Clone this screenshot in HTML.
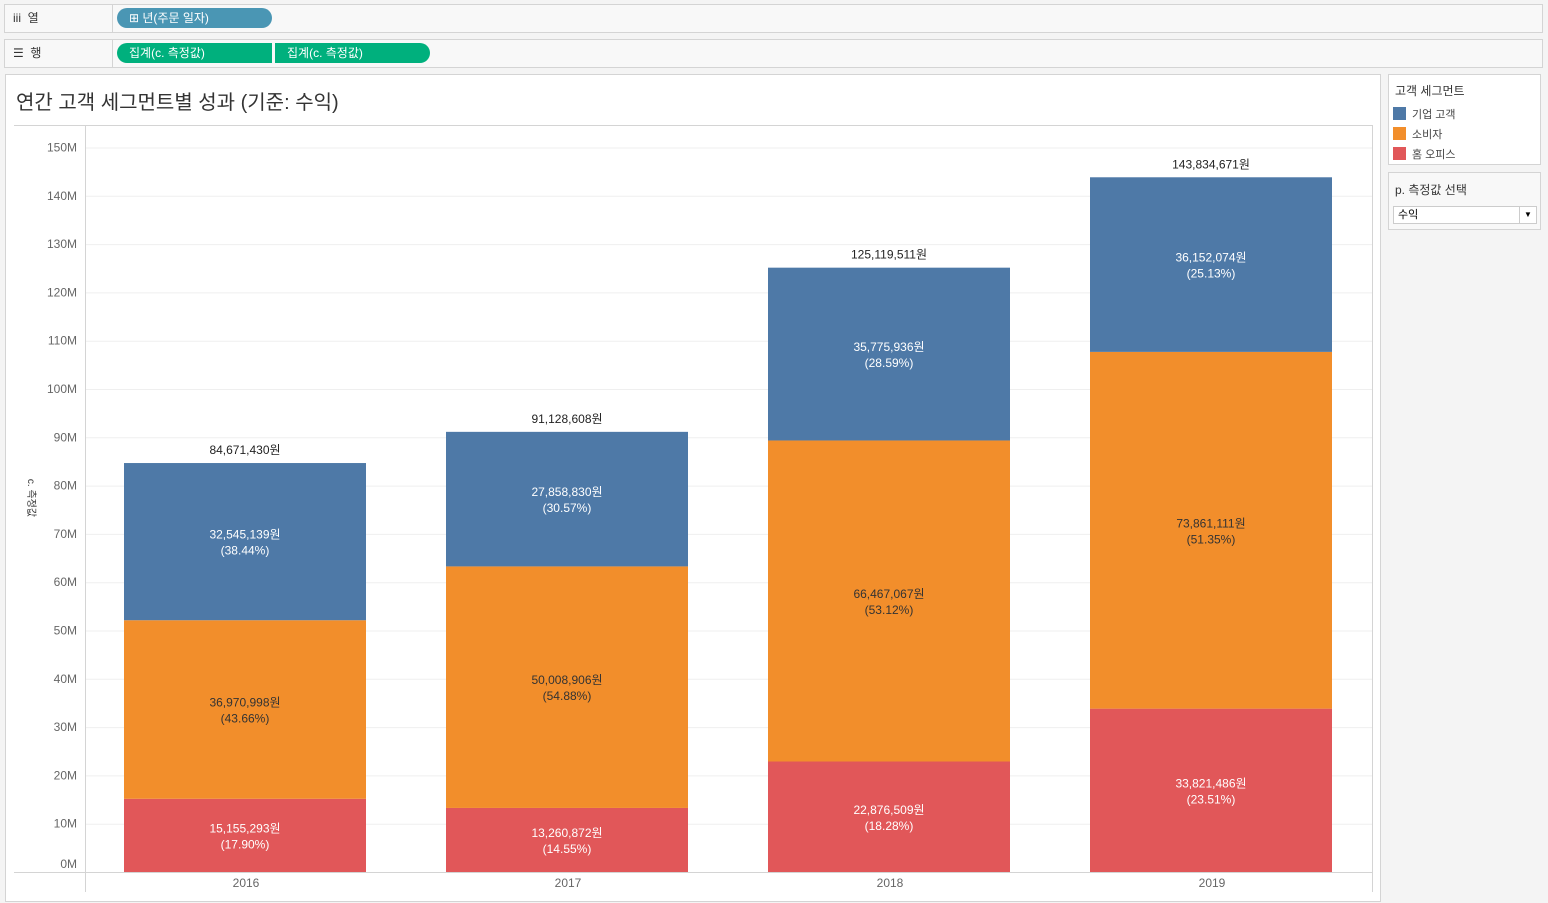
<!DOCTYPE html>
<html><head><meta charset="utf-8"><style>
body{margin:0;width:1548px;height:903px;background:#f4f4f4;font-family:"Liberation Sans","Noto Sans CJK KR",sans-serif;position:relative;overflow:hidden}
.abs{position:absolute}
.shelf{position:absolute;left:4px;width:1537px;height:27px;background:#f8f8f8;border:1px solid #d4d4d4}
.shelf .lab{position:absolute;left:0;top:0;width:108px;height:27px;border-right:1px solid #d4d4d4;font-size:12px;color:#333;line-height:27px;padding-left:8px;box-sizing:border-box}
.pill{position:absolute;top:3px;height:20px;border-radius:10px;color:#fff;font-size:12px;line-height:20px;padding-left:12px;box-sizing:border-box}
svg text{font-family:"Liberation Sans","Noto Sans CJK KR",sans-serif}
</style></head><body>
<div class="shelf" style="top:4px">
 <div class="lab">iii&nbsp; 열</div>
 <div class="pill" style="left:112px;width:155px;background:#4a96b4">⊞ 년(주문 일자)</div>
</div>
<div class="shelf" style="top:39px">
 <div class="lab">☰&nbsp; 행</div>
 <div class="pill" style="left:112px;width:155px;background:#00b07d;border-radius:10px 0 0 10px">집계(c. 측정값)</div>
 <div class="pill" style="left:270px;width:155px;background:#00b07d;border-radius:0 10px 10px 0">집계(c. 측정값)</div>
</div>
<div class="abs" style="left:5px;top:74px;width:1376px;height:828px;background:#fff;border:1px solid #d4d4d4;box-sizing:border-box"></div>
<div class="abs" style="left:16px;top:86px;font-size:20px;color:#333">연간 고객 세그먼트별 성과 (기준: 수익)</div>
<div class="abs" style="left:1388px;top:74px;width:153px;height:91px;background:#fff;border:1px solid #d4d4d4;box-sizing:border-box">
 <div style="position:absolute;left:6px;top:7px;font-size:12px;color:#333">고객 세그먼트</div>
 <div style="position:absolute;left:4px;top:30px;font-size:11px;color:#444;line-height:20px">
  <div><span style="display:inline-block;width:13px;height:13px;background:#4e79a7;vertical-align:-2px;margin-right:6px"></span>기업 고객</div>
  <div><span style="display:inline-block;width:13px;height:13px;background:#f28e2b;vertical-align:-2px;margin-right:6px"></span>소비자</div>
  <div><span style="display:inline-block;width:13px;height:13px;background:#e15759;vertical-align:-2px;margin-right:6px"></span>홈 오피스</div>
 </div>
</div>
<div class="abs" style="left:1388px;top:172px;width:153px;height:58px;background:#f8f8f8;border:1px solid #d4d4d4;box-sizing:border-box">
 <div style="position:absolute;left:6px;top:8px;font-size:12px;color:#333">p. 측정값 선택</div>
 <div style="position:absolute;left:4px;top:33px;width:144px;height:18px;background:#fff;border:1px solid #ccc;box-sizing:border-box;font-size:11px;line-height:16px;padding-left:4px">수익<span style="position:absolute;right:0;top:0;width:16px;height:16px;border-left:1px solid #ccc;text-align:center;font-size:8px">▼</span></div>
</div>
<svg class="abs" style="left:0;top:0" width="1548" height="903" id="chart"></svg>
<script>
const years=['2016','2017','2018','2019'];
const corporate=[32545139,27858830,35775936,36152074];
const consumer=[36970998,50008906,66467067,73861111];
const homeOffice=[15155293,13260872,22876509,33821486];
const totals=[84671430,91128608,125119511,143834671];
const yTicks=[0,10,20,30,40,50,60,70,80,90,100,110,120,130,140,150];
const NS='http://www.w3.org/2000/svg';
const svgEl=document.getElementById('chart');
const x0=84,band=322,barW=242,y0=872,pxPerM=4.83;
const yScale=v=>y0-v/1e6*pxPerM;
const xb=i=>x0+i*band+(band-barW)/2;
function mk(t,a,txt){const e=document.createElementNS(NS,t);for(const k in a)e.setAttribute(k,a[k]);if(txt!=null)e.textContent=txt;svgEl.appendChild(e);return e;}
const fmt=v=>v.toLocaleString('en-US')+'원';
const plotTop=mk('line',{x1:14,x2:1372,y1:125.5,y2:125.5,stroke:'#d4d4d4'});


const plotRight=mk('line',{x1:1372.5,x2:1372.5,y1:125,y2:892,stroke:'#d4d4d4'});


yTicks.forEach(t=>{
 const g=mk('line',{x1:85,x2:1372,y1:yScale(t*1e6)+.5,y2:yScale(t*1e6)+.5,stroke:'#efefef'});
 
 
 const ty=t===0?yScale(0)-4:yScale(t*1e6)+4;
 const l=mk('text',{x:77,y:ty,'text-anchor':'end','font-size':12,fill:'#666'},t+'M');
 
 
});
const yAxisLine=mk('line',{x1:85.5,x2:85.5,y1:125,y2:892,stroke:'#d4d4d4'});


const xAxisLine=mk('line',{x1:14,x2:1372,y1:872.5,y2:872.5,stroke:'#d4d4d4'});


const yTitle=mk('text',{x:0,y:0,'font-size':10,fill:'#333',transform:'translate(28,498) rotate(90)','text-anchor':'middle'},'c. 측정값');


const series=[[homeOffice,'#e15759','#fff','home-office'],[consumer,'#f28e2b','#333','consumer'],[corporate,'#4e79a7','#fff','corporate']];
years.forEach((yr,i)=>{
 const total=totals[i];
 let base=0;
 series.forEach(([arr,c,tc,nm])=>{
  const v=arr[i],yt1=yScale(base+v),yb=yScale(base);
  const r=mk('rect',{x:xb(i),y:yt1,width:barW,height:yb-yt1,fill:c});
  
  
  const cy=(yt1+yb)/2;
  const t1=mk('text',{x:xb(i)+barW/2,y:cy-3,'text-anchor':'middle','font-size':12,fill:tc},fmt(v));
  
  
  const t2=mk('text',{x:xb(i)+barW/2,y:cy+13,'text-anchor':'middle','font-size':12,fill:tc},'('+(v/total*100).toFixed(2)+'%)');
  
  
  base+=v;
 });
 const tl=mk('text',{x:xb(i)+barW/2,y:yScale(base)-9,'text-anchor':'middle','font-size':12,fill:'#222'},fmt(total));
 
 
 const xl=mk('text',{x:xb(i)+barW/2+1,y:887,'text-anchor':'middle','font-size':12,fill:'#666'},yr);
 
 
});
</script>
</body></html>
